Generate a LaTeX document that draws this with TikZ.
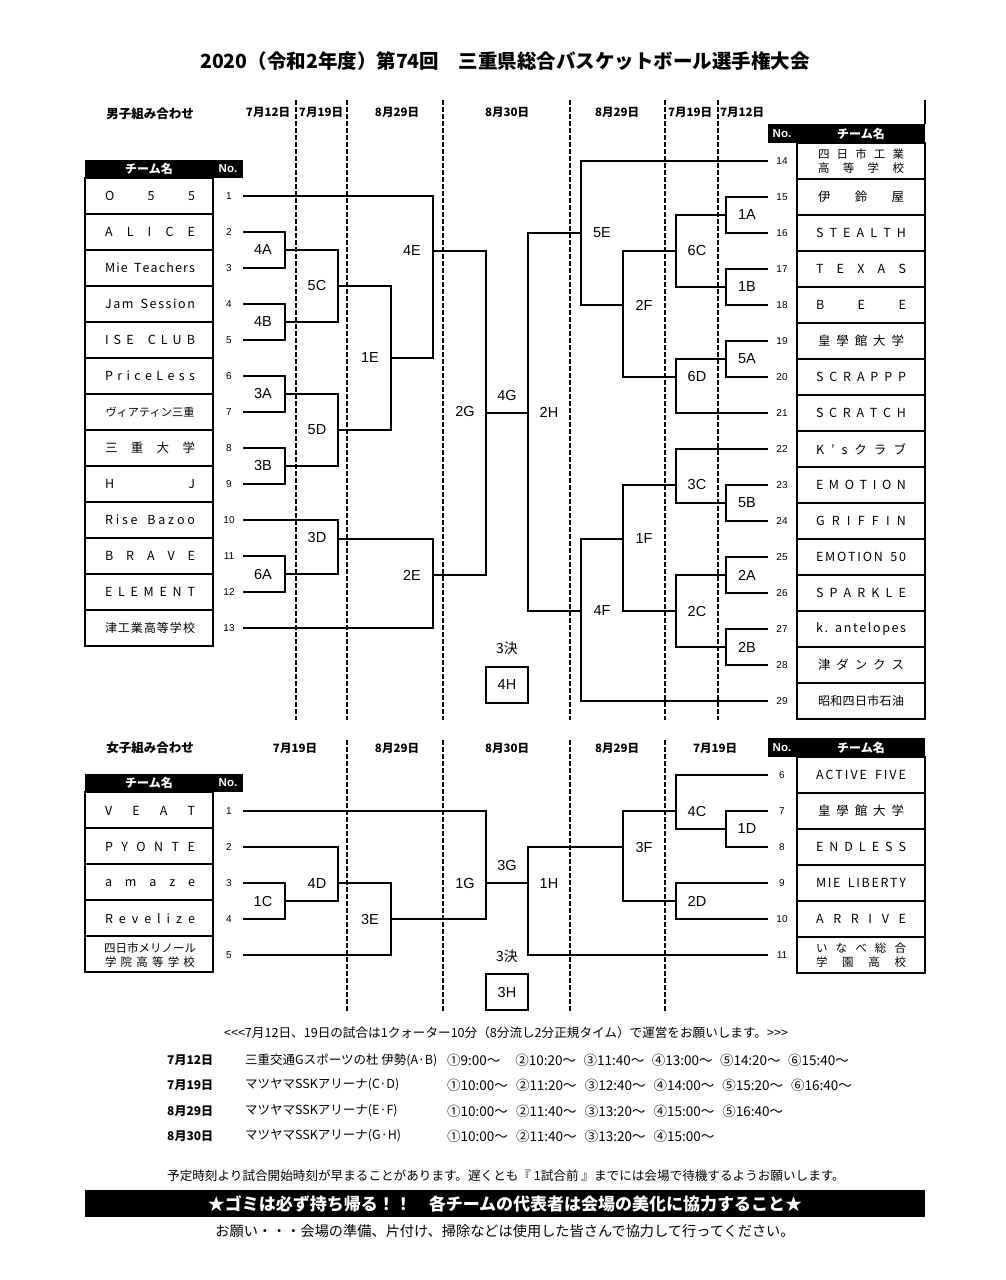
\documentclass[tikz,border=0pt]{standalone}
\usepackage{fontspec}
\setmainfont{Noto Sans CJK JP}
\newfontfamily\lat{Liberation Sans}
\makeatletter
\def\tsp@aux#1{\ifx#1\relax\let\tsp@next\relax\else\ifx#1|\hspace{4pt}\hfill\else\hfill#1\fi\let\tsp@next\tsp@aux\fi\tsp@next}
\def\tsp@first#1{#1\tsp@aux}
\newcommand\tspread[2][90pt]{\makebox[#1]{\tsp@first#2\relax}}
\makeatother
\begin{document}
\begin{tikzpicture}[x=1pt,y=-1pt,
  br/.style={line width=1.5pt},
  dsh/.style={line width=1.3pt, dash pattern=on 5pt off 2pt},
  tb/.style={line width=1.6pt},
  nm/.style={inner sep=0pt, font=\fontsize{12.5}{14}\selectfont},
  nmt/.style={inner sep=0pt, align=center, font=\fontsize{11.5}{13.5}\selectfont},
  num/.style={inner sep=0pt, font=\lat\fontsize{10}{12}\selectfont},
  lab/.style={inner sep=0pt, font=\lat\fontsize{14.5}{16}\selectfont},
  dt/.style={inner sep=0pt, font=\bfseries\fontsize{11.5}{13}\selectfont},
  hd/.style={inner sep=0pt, text=white, font=\bfseries\fontsize{12}{13}\selectfont},
  hdn/.style={inner sep=0pt, text=white, font=\lat\bfseries\fontsize{11.5}{13}\selectfont},
  sm/.style={inner sep=0pt, anchor=west, font=\fontsize{12.5}{14}\selectfont},
  tm/.style={inner sep=0pt, anchor=west, font=\fontsize{13.5}{15}\selectfont},
  sd/.style={inner sep=0pt, anchor=west, font=\bfseries\fontsize{12}{13}\selectfont},
]
\useasboundingbox[fill=white] (0,0) rectangle (1006,1280);

% title
\node[inner sep=0pt, font=\bfseries\fontsize{19.5}{22}\selectfont] (title) at (505,61) {2020（令和2年度）第74回　三重県総合バスケットボール選手権大会};

% ================= MALE =================
\node[dt, font=\bfseries\fontsize{12.5}{14}\selectfont] (msec) at (150,114) {男子組み合わせ};
\node[dt] (md1) at (268,112) {7月12日};
\node[dt] (md2) at (321,112) {7月19日};
\node[dt] (md3) at (397,112) {8月29日};
\node[dt] (md4) at (507,112) {8月30日};
\node[dt] (md5) at (617,112) {8月29日};
\node[dt] (md6) at (690,112) {7月19日};
\node[dt] (md7) at (742,112) {7月12日};

\foreach \x in {296,347,443,570,665,718} \draw[dsh] (\x,100) -- (\x,720);

% left table
\fill (85,160) rectangle (243,178);
\node[hd] (mhl) at (149,169) {チーム名};
\node[hdn] (mhln) at (228,169) {No.};
\draw[tb] (85,178) rectangle (213,646);
\foreach \k in {1,...,12} \draw[tb] (85,{178+36*\k}) -- (213,{178+36*\k});
\foreach \i in {1,...,13} {
  \coordinate (L\i) at (243,{196+36*(\i-1)});
  \node[num] (nl\i) at (229,{196+36*(\i-1)}) {\i};
}
\node[nm] (tl1) at (150,196) {\tspread{O55}};
\node[nm] (tl2) at (150,232) {\tspread{ALICE}};
\node[nm] (tl3) at (150,268) {\tspread{Mie|Teachers}};
\node[nm] (tl4) at (150,304) {\tspread{Jam|Session}};
\node[nm] (tl5) at (150,340) {\tspread{ISE|CLUB}};
\node[nm] (tl6) at (150,376) {\tspread{PriceLess}};
\node[nm] (tl7) at (150,412) {\fontsize{11.2}{13}\selectfont ヴィアティン三重};
\node[nm] (tl8) at (150,448) {\tspread{三重大学}};
\node[nm] (tl9) at (150,484) {\tspread{HJ}};
\node[nm] (tl10) at (150,520) {\tspread{Rise|Bazoo}};
\node[nm] (tl11) at (150,556) {\tspread{BRAVE}};
\node[nm] (tl12) at (150,592) {\tspread{ELEMENT}};
\node[nm] (tl13) at (150,628) {\fontsize{12}{13}\selectfont\tspread{津工業高等学校}};

% right table
\draw[tb] (925,100) -- (925,124);
\fill (768,124) rectangle (925,143);
\node[hdn] (mhrn) at (782,133.5) {No.};
\node[hd] (mhr) at (861,133.5) {チーム名};
\draw[tb] (797,143) rectangle (925,719);
\foreach \k in {1,...,15} \draw[tb] (797,{143+36*\k}) -- (925,{143+36*\k});
\foreach \i in {14,...,29} {
  \coordinate (R\i) at (768,{161+36*(\i-14)});
  \node[num] (nr\i) at (782,{161+36*(\i-14)}) {\i};
}
\node[nmt] (tr14) at (861,161) {\tspread[86pt]{四日市工業}\\\tspread[86pt]{高等学校}};
\node[nm] (tr15) at (861,197) {\tspread[86pt]{伊鈴屋}};
\node[nm] (tr16) at (861,233) {\tspread{STEALTH}};
\node[nm] (tr17) at (861,269) {\tspread{TEXAS}};
\node[nm] (tr18) at (861,305) {\tspread{BEE}};
\node[nm] (tr19) at (861,341) {\tspread[86pt]{皇學館大学}};
\node[nm] (tr20) at (861,377) {\tspread{SCRAPPP}};
\node[nm] (tr21) at (861,413) {\tspread{SCRATCH}};
\node[nm] (tr22) at (861,449) {\tspread{K’sクラブ}};
\node[nm] (tr23) at (861,485) {\tspread{EMOTION}};
\node[nm] (tr24) at (861,521) {\tspread{GRIFFIN}};
\node[nm] (tr25) at (861,557) {\tspread{EMOTION|50}};
\node[nm] (tr26) at (861,593) {\tspread{SPARKLE}};
\node[nm] (tr27) at (861,629) {\tspread{k.|antelopes}};
\node[nm] (tr28) at (861,665) {\tspread[86pt]{津ダンクス}};
\node[nm] (tr29) at (861,701) {\fontsize{12}{13}\selectfont\tspread[86pt]{昭和四日市石油}};

% match points
\coordinate (m4A) at (285,250); \coordinate (m4B) at (285,322);
\coordinate (m3A) at (285,394); \coordinate (m3B) at (285,466);
\coordinate (m6A) at (285,574);
\coordinate (m5C) at (338,286); \coordinate (m5D) at (338,430);
\coordinate (m3D) at (338,539);
\coordinate (m1E) at (391,358);
\coordinate (m4E) at (433,251); \coordinate (m2E) at (433,575);
\coordinate (m2G) at (486,413);
\coordinate (m1A) at (726,215); \coordinate (m1B) at (726,287);
\coordinate (m5A) at (726,359); \coordinate (m5B) at (726,503);
\coordinate (m2A) at (726,575); \coordinate (m2B) at (726,647);
\coordinate (m6C) at (676,251); \coordinate (m6D) at (676,377);
\coordinate (m3C) at (676,485); \coordinate (m2C) at (676,611);
\coordinate (m2F) at (623,305); \coordinate (m1F) at (623,539);
\coordinate (m5E) at (581,233); \coordinate (m4F) at (581,611);
\coordinate (m2H) at (528,413);

% left bracket
\draw[br] (L2) -| (m4A) |- (L3);
\draw[br] (L4) -| (m4B) |- (L5);
\draw[br] (L6) -| (m3A) |- (L7);
\draw[br] (L8) -| (m3B) |- (L9);
\draw[br] (L11) -| (m6A) |- (L12);
\draw[br] (m4A) -| (m5C) |- (m4B);
\draw[br] (m3A) -| (m5D) |- (m3B);
\draw[br] (L10) -| (m3D) |- (m6A);
\draw[br] (m5C) -| (m1E) |- (m5D);
\draw[br] (L1) -| (m4E) |- (m1E);
\draw[br] (m3D) -| (m2E) |- (L13);
\draw[br] (m4E) -| (m2G) |- (m2E);
\draw[br] (m2G) -- (m2H);
% right bracket
\draw[br] (R15) -| (m1A) |- (R16);
\draw[br] (R17) -| (m1B) |- (R18);
\draw[br] (R19) -| (m5A) |- (R20);
\draw[br] (R23) -| (m5B) |- (R24);
\draw[br] (R25) -| (m2A) |- (R26);
\draw[br] (R27) -| (m2B) |- (R28);
\draw[br] (m1A) -| (m6C) |- (m1B);
\draw[br] (m5A) -| (m6D) |- (R21);
\draw[br] (R22) -| (m3C) |- (m5B);
\draw[br] (m2A) -| (m2C) |- (m2B);
\draw[br] (m6C) -| (m2F) |- (m6D);
\draw[br] (m3C) -| (m1F) |- (m2C);
\draw[br] (R14) -| (m5E) |- (m2F);
\draw[br] (m1F) -| (m4F) |- (R29);
\draw[br] (m5E) -| (m2H) |- (m4F);

% labels
\node[lab] (l4A) at (263,250) {4A};
\node[lab] (l4B) at (263,322) {4B};
\node[lab] (l3A) at (263,394) {3A};
\node[lab] (l3B) at (263,466) {3B};
\node[lab] (l6A) at (263,574) {6A};
\node[lab] (l5C) at (317,286) {5C};
\node[lab] (l5D) at (317,430) {5D};
\node[lab] (l3D) at (317,538) {3D};
\node[lab] (l1E) at (370,358) {1E};
\node[lab] (l4E) at (412,251) {4E};
\node[lab] (l2E) at (412,575) {2E};
\node[lab] (l2G) at (465,412) {2G};
\node[lab] (l4G) at (507,396) {4G};
\node[lab] (l2H) at (549,412) {2H};
\node[lab] (l5E) at (602,233) {5E};
\node[lab] (l4F) at (602,611) {4F};
\node[lab] (l2F) at (644,305) {2F};
\node[lab] (l1F) at (644,539) {1F};
\node[lab] (l6C) at (697,251) {6C};
\node[lab] (l6D) at (697,377) {6D};
\node[lab] (l3C) at (697,485) {3C};
\node[lab] (l2C) at (697,611) {2C};
\node[lab] (l1A) at (747,215) {1A};
\node[lab] (l1B) at (747,287) {1B};
\node[lab] (l5A) at (747,359) {5A};
\node[lab] (l5B) at (747,503) {5B};
\node[lab] (l2A) at (747,575) {2A};
\node[lab] (l2B) at (747,647) {2B};
\node[inner sep=0pt, font=\fontsize{14}{16}\selectfont] (m3k) at (507,648) {3決};
\node[lab, draw, line width=1.5pt, minimum width=42pt, minimum height=36pt] (b4H) at (507,685) {4H};

% ================= FEMALE =================
\node[dt, font=\bfseries\fontsize{12.5}{14}\selectfont] (fsec) at (150,748) {女子組み合わせ};
\node[dt] (fd1) at (295,748) {7月19日};
\node[dt] (fd2) at (397,748) {8月29日};
\node[dt] (fd3) at (507,748) {8月30日};
\node[dt] (fd4) at (617,748) {8月29日};
\node[dt] (fd5) at (715,748) {7月19日};
\foreach \x in {347,443,570,665} \draw[dsh] (\x,740) -- (\x,1012);

\fill (85,774) rectangle (243,792);
\node[hd] (fhl) at (149,783) {チーム名};
\node[hdn] (fhln) at (228,783) {No.};
\draw[tb] (85,792) rectangle (213,972);
\foreach \k in {1,...,4} \draw[tb] (85,{792+36*\k}) -- (213,{792+36*\k});
\foreach \i in {1,...,5} {
  \coordinate (FL\i) at (243,{811+36*(\i-1)});
  \node[num] (fnl\i) at (229,{811+36*(\i-1)}) {\i};
}
\node[nm] (ftl1) at (150,811) {\tspread{VEAT}};
\node[nm] (ftl2) at (150,847) {\tspread{PYONTE}};
\node[nm] (ftl3) at (150,883) {\tspread{amaze}};
\node[nm] (ftl4) at (150,919) {\tspread{Revelize}};
\node[nmt] (ftl5) at (150,955) {\tspread{四日市メリノール}\\\tspread{学院高等学校}};

\fill (768,738) rectangle (925,757);
\node[hdn] (fhrn) at (782,747.5) {No.};
\node[hd] (fhr) at (861,747.5) {チーム名};
\draw[tb] (797,757) rectangle (925,973);
\foreach \k in {1,...,5} \draw[tb] (797,{757+36*\k}) -- (925,{757+36*\k});
\foreach \i in {6,...,11} {
  \coordinate (FR\i) at (768,{775+36*(\i-6)});
  \node[num] (fnr\i) at (782,{775+36*(\i-6)}) {\i};
}
\node[nm] (ftr6) at (861,775) {\tspread{ACTIVE|FIVE}};
\node[nm] (ftr7) at (861,811) {\tspread[86pt]{皇學館大学}};
\node[nm] (ftr8) at (861,847) {\tspread{ENDLESS}};
\node[nm] (ftr9) at (861,883) {\tspread{MIE|LIBERTY}};
\node[nm] (ftr10) at (861,919) {\tspread{ARRIVE}};
\node[nmt] (ftr11) at (861,955) {\tspread{いなべ総合}\\\tspread{学園高校}};

\coordinate (f1C) at (285,901); \coordinate (f4D) at (338,883);
\coordinate (f3E) at (391,919); \coordinate (f1G) at (486,883);
\coordinate (f1H) at (528,883); \coordinate (f1D) at (726,829);
\coordinate (f4C) at (676,811); \coordinate (f2D) at (676,901);
\coordinate (f3F) at (623,847);

\draw[br] (FL3) -| (f1C) |- (FL4);
\draw[br] (FL2) -| (f4D) |- (f1C);
\draw[br] (f4D) -| (f3E) |- (FL5);
\draw[br] (FL1) -| (f1G) |- (f3E);
\draw[br] (f1G) -- (f1H);
\draw[br] (FR7) -| (f1D) |- (FR8);
\draw[br] (FR6) -| (f4C) |- (f1D);
\draw[br] (FR9) -| (f2D) |- (FR10);
\draw[br] (f4C) -| (f3F) |- (f2D);
\draw[br] (f3F) -| (f1H) |- (FR11);

\node[lab] (lf1C) at (263,901) {1C};
\node[lab] (lf4D) at (317,883) {4D};
\node[lab] (lf3E) at (370,919) {3E};
\node[lab] (lf1G) at (465,883) {1G};
\node[lab] (lf3G) at (507,865) {3G};
\node[lab] (lf1H) at (549,883) {1H};
\node[lab] (lf3F) at (644,847) {3F};
\node[lab] (lf4C) at (697,811) {4C};
\node[lab] (lf2D) at (697,901) {2D};
\node[lab] (lf1D) at (747,829) {1D};
\node[inner sep=0pt, font=\fontsize{14}{16}\selectfont] (f3k) at (507,956) {3決};
\node[lab, draw, line width=1.5pt, minimum width=42pt, minimum height=36pt] (b3H) at (507,992) {3H};

% ================= NOTES =================
\node[inner sep=0pt, font=\fontsize{12.6}{14}\selectfont] (note1) at (506,1033) {\hbox{<}\hbox{<}\hbox{<}7月12日、19日の試合は1クォーター10分（8分流し2分正規タイム）で運営をお願いします。\hbox{>}\hbox{>}\hbox{>}};

\node[sd] (s1d) at (167,1060) {7月12日};
\node[sd] (s2d) at (167,1085) {7月19日};
\node[sd] (s3d) at (167,1111) {8月29日};
\node[sd] (s4d) at (167,1136) {8月30日};
\node[sm] (s1v) at (245,1060) {三重交通Gスポーツの杜 伊勢(A·B)};
\node[sm] (s2v) at (245,1085) {マツヤマSSKアリーナ(C·D)};
\node[sm] (s3v) at (245,1111) {マツヤマSSKアリーナ(E·F)};
\node[sm] (s4v) at (245,1136) {マツヤマSSKアリーナ(G·H)};
\foreach \t [count=\k from 0] in {①9:00～,②10:20～,③11:40～,④13:00～,⑤14:20～,⑥15:40～}
  \node[tm] (s1t\k) at ({447+68.2*\k},1060) {\t};
\foreach \t [count=\k from 0] in {①10:00～,②11:20～,③12:40～,④14:00～,⑤15:20～,⑥16:40～}
  \node[tm] (s2t\k) at ({447+68.8*\k},1085) {\t};
\foreach \t [count=\k from 0] in {①10:00～,②11:40～,③13:20～,④15:00～,⑤16:40～}
  \node[tm] (s3t\k) at ({447+68.8*\k},1111) {\t};
\foreach \t [count=\k from 0] in {①10:00～,②11:40～,③13:20～,④15:00～}
  \node[tm] (s4t\k) at ({447+68.8*\k},1136) {\t};

\node[inner sep=0pt, font=\fontsize{12.6}{14}\selectfont] (note2) at (506,1176) {予定時刻より試合開始時刻が早まることがあります。遅くとも『 1試合前 』までには会場で待機するようお願いします。};
\fill (85,1190) rectangle (925,1217);
\node[inner sep=0pt, text=white, font=\bfseries\fontsize{17}{19}\selectfont] (note3) at (505,1203.5) {★ゴミは必ず持ち帰る！！　各チームの代表者は会場の美化に協力すること★};
\node[inner sep=0pt, font=\fontsize{14.2}{16}\selectfont] (note4) at (505,1231) {お願い・・・会場の準備、片付け、掃除などは使用した皆さんで協力して行ってください。};
\end{tikzpicture}
\end{document}
